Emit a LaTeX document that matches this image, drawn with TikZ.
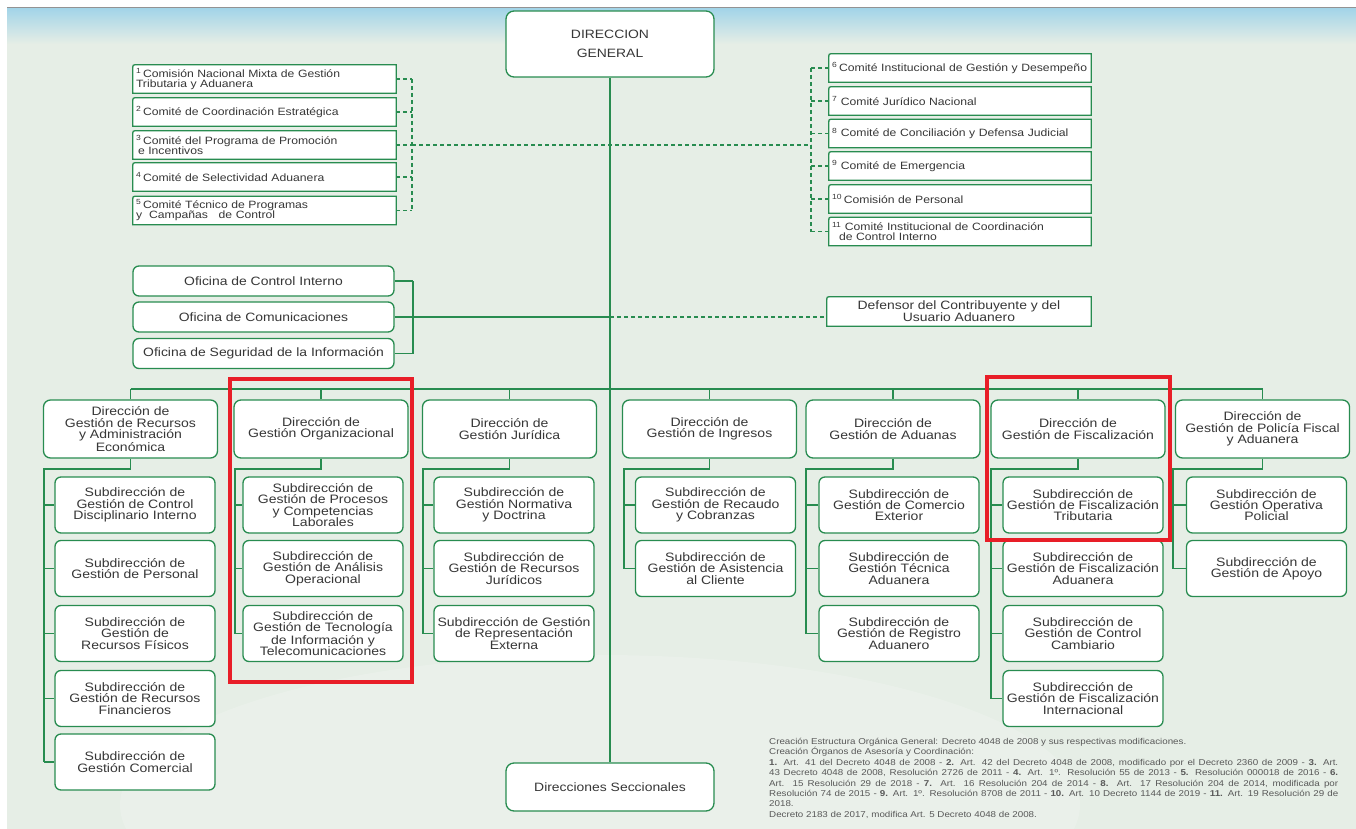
\documentclass[tikz,border=0pt]{standalone}
\usepackage{fontspec}
\setmainfont{Liberation Sans}[FakeStretch=1.15]
\usetikzlibrary{calc}

\definecolor{bgpaper}{RGB}{230,238,230}
\definecolor{skyband}{RGB}{162,212,232}
\definecolor{orgline}{RGB}{40,140,80}
\definecolor{boxtext}{RGB}{55,55,55}
\definecolor{notetext}{RGB}{88,88,88}
\definecolor{markred}{RGB}{232,30,40}

\pgfdeclarelayer{bg}
\pgfsetlayers{bg,main}

\newcommand{\fnline}[1]{\hbox to 569pt{#1}}

\tikzset{
  every node/.style={text=boxtext, inner sep=0pt},
  conn/.style={draw=orgline, line width=1.4pt},
  dconn/.style={draw=orgline, line width=1.3pt, dash pattern=on 4pt off 3pt},
  roundbox/.style={draw=orgline, fill=white, line width=1.3pt, rounded corners=7pt, align=center},
  headbox/.style={roundbox, minimum width=174pt, minimum height=58pt,
    font=\fontsize{12.2}{11.4}\selectfont},
  subbox/.style={roundbox, rounded corners=6pt, minimum width=160pt, minimum height=56pt,
    font=\fontsize{12.2}{11.4}\selectfont},
  officebox/.style={roundbox, rounded corners=6pt, minimum width=261pt, minimum height=30pt,
    font=\fontsize{12.1}{12}\selectfont},
  cbox/.style={minimum height=28pt, align=left, inner xsep=3pt,
    font=\fontsize{10.6}{10}\selectfont},
  frame/.style={fill=white, draw=orgline, line width=1.3pt},
  redmark/.style={draw=markred, line width=4.5pt},
}

\begin{document}
\begin{tikzpicture}[x=1pt,y=-1pt]
\useasboundingbox (0,0) rectangle (1356,829);

% paper, sky band and pale watermark
\begin{pgfonlayer}{bg}
  \fill[bgpaper] (7,7) rectangle (1356,829);
  \shade[top color=skyband, bottom color=bgpaper] (7,8) rectangle (1356,44);
  \draw[gray!85, line width=1.2pt] (7,7.6) -- (1356,7.6);
  \begin{scope}
    \clip (7,7) rectangle (1356,829);
    \fill[white, opacity=0.16] (600,805) ellipse [x radius=480pt, y radius=150pt];
  \end{scope}
\end{pgfonlayer}

% top of the hierarchy
\node[roundbox, rounded corners=8pt, minimum width=208pt, minimum height=66pt,
      font=\fontsize{12.1}{19}\selectfont] (dg) at (610,44) {DIRECCION\\GENERAL};
\node[roundbox, rounded corners=8pt, minimum width=208pt, minimum height=48pt,
      font=\fontsize{12.1}{12}\selectfont] (sec) at (610,787) {Direcciones Seccionales};

% advisory committees, left group
\node[cbox, text width=257pt] (c1) at (264.5,79)
  {\textsuperscript{1}\,Comisión Nacional Mixta de Gestión\\Tributaria y Aduanera};
\node[cbox, text width=257pt] (c2) at (264.5,112)
  {\textsuperscript{2}\,Comité de Coordinación Estratégica};
\node[cbox, text width=257pt] (c3) at (264.5,145)
  {\textsuperscript{3}\,Comité del Programa de Promoción\\\hspace*{2pt}e Incentivos};
\node[cbox, text width=257pt] (c4) at (264.5,177)
  {\textsuperscript{4}\,Comité de Selectividad Aduanera};
\node[cbox, text width=257pt] (c5) at (264.5,210.5)
  {\textsuperscript{5}\,Comité Técnico de Programas\\y\ \ Campañas\ \ \ de Control};

% advisory committees, right group
\node[cbox, text width=256pt] (c6) at (960,68)
  {\textsuperscript{6}\,Comité Institucional de Gestión y Desempeño};
\node[cbox, text width=256pt] (c7) at (960,101)
  {\textsuperscript{7} Comité Jurídico Nacional};
\node[cbox, text width=256pt] (c8) at (960,133.5)
  {\textsuperscript{8} Comité de Conciliación y Defensa Judicial};
\node[cbox, text width=256pt] (c9) at (960,166)
  {\textsuperscript{9} Comité de Emergencia};
\node[cbox, text width=256pt] (c10) at (960,199)
  {\textsuperscript{10}\,Comisión de Personal};
\node[cbox, text width=256pt] (c11) at (960,231.5)
  {\textsuperscript{11} Comité Institucional de Coordinación\\\hspace*{7pt}de Control Interno};

% offices and ombudsman
\node[officebox] (o1) at (263.5,281) {Oficina de Control Interno};
\node[officebox] (o2) at (263.5,317) {Oficina de Comunicaciones};
\node[officebox] (o3) at (263.5,353.5) {Oficina de Seguridad de la Información};
\node[minimum width=264pt, minimum height=29pt, align=center,
      font=\fontsize{12.1}{12}\selectfont] (def) at (959,311.5)
  {Defensor del Contribuyente y del\\Usuario Aduanero};

% frames with one rounded corner
\begin{pgfonlayer}{bg}
  \foreach \n in {c1,c2,c3,c4,c5,c6,c7,c8,c9,c10,c11,def}
    \draw[frame] (\n.south west) -- ([yshift=-4pt]\n.north west)
      .. controls (\n.north west) .. ([xshift=4pt]\n.north west)
      -- (\n.north east) -- (\n.south east) -- cycle;
\end{pgfonlayer}

% directorates
\node[headbox] (d1) at (130.5,429) {Dirección de\\Gestión de Recursos\\y Administración\\Económica};
\node[headbox] (d2) at (321,429) {Dirección de\\Gestión Organizacional};
\node[headbox] (d3) at (509.5,429) {Dirección de\\Gestión Jurídica};
\node[headbox] (d4) at (709.5,429) {Dirección de\\Gestión de Ingresos};
\node[headbox] (d5) at (893,429) {Dirección de\\Gestión de Aduanas};
\node[headbox] (d6) at (1078,429) {Dirección de\\Gestión de Fiscalización};
\node[headbox] (d7) at (1262.5,429) {Dirección de\\Gestión de Policía Fiscal\\y Aduanera};

% sub-directorates
\node[subbox] (k11) at (135,505) {Subdirección de\\Gestión de Control\\Disciplinario Interno};
\node[subbox] (k12) at (135,568.5) {Subdirección de\\Gestión de Personal};
\node[subbox] (k13) at (135,633.5) {Subdirección de\\Gestión de\\Recursos Físicos};
\node[subbox] (k14) at (135,698.5) {Subdirección de\\Gestión de Recursos\\Financieros};
\node[subbox] (k15) at (135,762) {Subdirección de\\Gestión Comercial};

\node[subbox] (k21) at (323,505) {Subdirección de\\Gestión de Procesos\\y Competencias\\Laborales};
\node[subbox] (k22) at (323,568.5) {Subdirección de\\Gestión de Análisis\\Operacional};
\node[subbox] (k23) at (323,633.5) {Subdirección de\\Gestión de Tecnología\\de Información y\\Telecomunicaciones};

\node[subbox] (k31) at (514,505) {Subdirección de\\Gestión Normativa\\y Doctrina};
\node[subbox] (k32) at (514,568.5) {Subdirección de\\Gestión de Recursos\\Jurídicos};
\node[subbox] (k33) at (514,633.5) {Subdirección de Gestión\\de Representación\\Externa};

\node[subbox] (k41) at (715.5,505) {Subdirección de\\Gestión de Recaudo\\y Cobranzas};
\node[subbox] (k42) at (715.5,568.5) {Subdirección de\\Gestión de Asistencia\\al Cliente};

\node[subbox] (k51) at (899,505) {Subdirección de\\Gestión de Comercio\\Exterior};
\node[subbox] (k52) at (899,568.5) {Subdirección de\\Gestión Técnica\\Aduanera};
\node[subbox] (k53) at (899,633.5) {Subdirección de\\Gestión de Registro\\Aduanero};

\node[subbox] (k61) at (1083,505) {Subdirección de\\Gestión de Fiscalización\\Tributaria};
\node[subbox] (k62) at (1083,568.5) {Subdirección de\\Gestión de Fiscalización\\Aduanera};
\node[subbox] (k63) at (1083,633.5) {Subdirección de\\Gestión de Control\\Cambiario};
\node[subbox] (k64) at (1083,698.5) {Subdirección de\\Gestión de Fiscalización\\Internacional};

\node[subbox] (k71) at (1266.5,505) {Subdirección de\\Gestión Operativa\\Policial};
\node[subbox] (k72) at (1266.5,568.5) {Subdirección de\\Gestión de Apoyo};

% legal notes
\node[anchor=north west, text=notetext] (note) at (769,738) {\vbox{%
  \fontsize{8.5}{10.4}\selectfont
  \hbox{Creación Estructura Orgánica General: Decreto 4048 de 2008 y sus respectivas modificaciones.}
  \hbox{Creación Órganos de Asesoría y Coordinación:}
  \fnline{\textbf{1.} Art. 41 del Decreto 4048 de 2008 - \textbf{2.} Art. 42 del Decreto 4048 de 2008, modificado por el Decreto 2360 de 2009 - \textbf{3.} Art.}
  \fnline{43 Decreto 4048 de 2008, Resolución 2726 de 2011 - \textbf{4.} Art. 1º. Resolución 55 de 2013 - \textbf{5.} Resolución 000018 de 2016 - \textbf{6.}}
  \fnline{Art. 15 Resolución 29 de 2018 - \textbf{7.} Art. 16 Resolución 204 de 2014 - \textbf{8.} Art. 17 Resolución 204 de 2014, modificada por}
  \fnline{Resolución 74 de 2015 - \textbf{9.} Art. 1º. Resolución 8708 de 2011 - \textbf{10.} Art. 10 Decreto 1144 de 2019 - \textbf{11.} Art. 19 Resolución 29 de}
  \hbox{2018.}
  \hbox{Decreto 2183 de 2017, modifica Art. 5 Decreto 4048 de 2008.}}};

% spine of the organisation
\draw[conn] (dg.south) -- (sec.north);

% dashed links to the committees
\coordinate (lb) at (412,0);
\coordinate (rb) at (811,0);
\foreach \i in {1,...,5} \draw[dconn] (c\i.east) -- (c\i.east -| lb);
\draw[dconn] (c1.east -| lb) -- (c5.east -| lb);
\draw[dconn] (c3.east -| lb) -- (c3.east -| rb);
\foreach \i in {6,...,11} \draw[dconn] (c\i.west) -- (c\i.west -| rb);
\draw[dconn] (c6.west -| rb) -- (c11.west -| rb);

% offices bracket and ombudsman link
\coordinate (ob) at (413,0);
\foreach \n in {o1,o2,o3} \draw[conn] (\n.east) -- (\n.east -| ob);
\draw[conn] (o1.east -| ob) -- (o3.east -| ob);
\draw[conn] (o2.east -| ob) -- (o2.east -| dg.south);
\draw[dconn] (o2.east -| dg.south) -- (o2.east -| def.west);

% bus to the directorates
\coordinate (bus) at (0,389);
\draw[conn] (d1.north |- bus) -- (d7.north |- bus);
\foreach \d in {d1,d2,d3,d4,d5,d6,d7} \draw[conn] (\d.north) -- (\d.north |- bus);

% directorate to sub-directorate trees
\coordinate (s1) at (44,469);
\coordinate (s2) at (235,469);
\coordinate (s3) at (423,469);
\coordinate (s4) at (624,469);
\coordinate (s5) at (806,469);
\coordinate (s6) at (991,469);
\coordinate (s7) at (1173,469);
\draw[conn] (d1.south) |- (s1) -- (s1 |- k15.west);
\draw[conn] (d2.south) |- (s2) -- (s2 |- k23.west);
\draw[conn] (d3.south) |- (s3) -- (s3 |- k33.west);
\draw[conn] (d4.south) |- (s4) -- (s4 |- k42.west);
\draw[conn] (d5.south) |- (s5) -- (s5 |- k53.west);
\draw[conn] (d6.south) |- (s6) -- (s6 |- k64.west);
\draw[conn] (d7.south) |- (s7) -- (s7 |- k72.west);
\foreach \k in {k11,k12,k13,k14,k15} \draw[conn] (s1 |- \k.west) -- (\k.west);
\foreach \k in {k21,k22,k23} \draw[conn] (s2 |- \k.west) -- (\k.west);
\foreach \k in {k31,k32,k33} \draw[conn] (s3 |- \k.west) -- (\k.west);
\foreach \k in {k41,k42} \draw[conn] (s4 |- \k.west) -- (\k.west);
\foreach \k in {k51,k52,k53} \draw[conn] (s5 |- \k.west) -- (\k.west);
\foreach \k in {k61,k62,k63,k64} \draw[conn] (s6 |- \k.west) -- (\k.west);
\foreach \k in {k71,k72} \draw[conn] (s7 |- \k.west) -- (\k.west);

% highlight frames
\draw[redmark] (230,379) rectangle (412,682);
\draw[redmark] (987,377) rectangle (1170,540);
\end{tikzpicture}
\end{document}
